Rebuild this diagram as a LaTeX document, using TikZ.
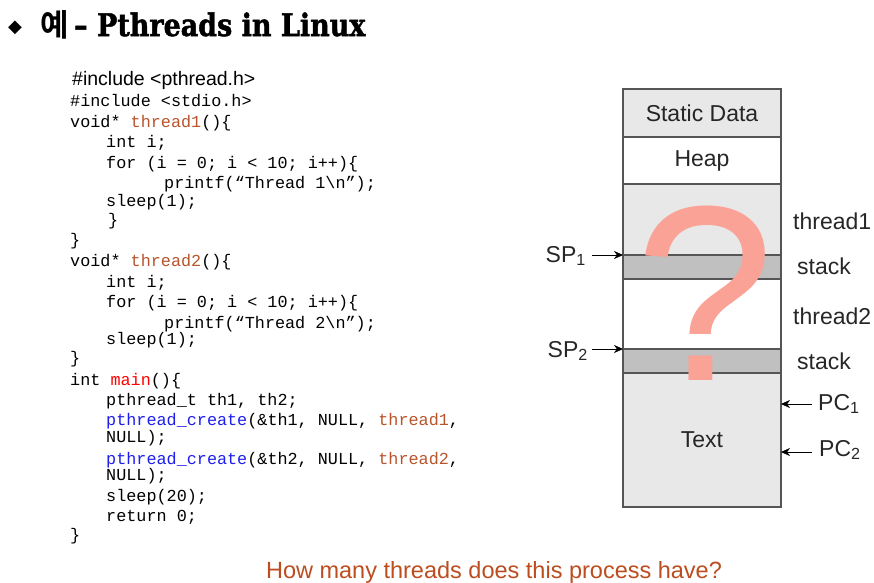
\documentclass[tikz,border=0pt]{standalone}
\usepackage{fontspec}
\setmainfont{Liberation Sans}
\setmonofont{Liberation Mono}
\newfontfamily\titlefont{DejaVu Serif}[BoldFeatures={FakeBold=1.6}]
\newfontfamily\krfont{Noto Sans CJK KR}[BoldFont={Noto Sans CJK KR Bold}]
\newfontfamily\symfont{DejaVu Sans}
\usetikzlibrary{arrows.meta,positioning}
\definecolor{segfill}{RGB}{232,232,232}
\definecolor{stackfill}{RGB}{192,192,192}
\definecolor{segline}{RGB}{85,85,85}
\definecolor{fnbrown}{RGB}{184,84,44}
\definecolor{callblue}{RGB}{30,30,235}
\definecolor{questpink}{RGB}{250,162,150}
\definecolor{askbrown}{RGB}{187,77,30}

\begin{document}
\begin{tikzpicture}[x=1pt,y=-1pt,>={Stealth[length=9pt,width=8pt]},
  seg/.style={draw=segline,line width=1.3pt,minimum width=158pt,inner sep=0pt,
    outer sep=0pt,font=\fontsize{23}{27}\selectfont,text=black!85},
  lbl/.style={inner sep=0pt,font=\fontsize{23}{27}\selectfont,text=black!85},
  code/.style={anchor=base west,inner sep=0pt,font=\ttfamily\fontsize{16.8}{20}\selectfont}]
  \useasboundingbox (0,0) rectangle (874,582);
  % title
  \node[inner sep=0pt,font=\symfont\fontsize{18}{18}\selectfont] (bullet) at (15,28) {◆};
  \node[anchor=base west,inner sep=0pt,font=\krfont\bfseries\fontsize{31}{31}\selectfont] (ye) at (40,36) {예};
  \node[anchor=base west,inner sep=0pt,font=\titlefont\bfseries\fontsize{31}{31}\selectfont] (title) at (74,36)
    {\scalebox{0.87}[1]{– Pthreads in Linux}};
  % source code
  \node[anchor=base west,inner sep=0pt,font=\fontsize{19.5}{20}\selectfont] (inc1) at (72,85) {\#include <pthread.h>};
  \node[code] (inc2) at (70,106) {\#include <stdio.h>};
  \node[code] (l3) at (70,127) {void* \textcolor{fnbrown}{thread1}()\{};
  \node[code] (l4) at (106,147) {int i;};
  \node[code] (l5) at (106,168) {for (i = 0; i < 10; i++)\{};
  \node[code] (l6) at (164,188) {printf(“Thread 1\textbackslash n”);};
  \node[code] (l7) at (106,206) {sleep(1);};
  \node[code] (l8) at (108,225) {\}};
  \node[code] (l9) at (70,245) {\}};
  \node[code] (l10) at (70,266) {void* \textcolor{fnbrown}{thread2}()\{};
  \node[code] (l11) at (106,287) {int i;};
  \node[code] (l12) at (106,307) {for (i = 0; i < 10; i++)\{};
  \node[code] (l13) at (164,328) {printf(“Thread 2\textbackslash n”);};
  \node[code] (l14) at (106,344) {sleep(1);};
  \node[code] (l15) at (70,363) {\}};
  \node[code] (l16) at (70,385) {int \textcolor{red}{main}()\{};
  \node[code] (l17) at (106,405) {pthread\_t th1, th2;};
  \node[code] (l18) at (106,425) {\textcolor{callblue}{pthread\_create}(\&th1, NULL, \textcolor{fnbrown}{thread1},};
  \node[code] (l19) at (106,442) {NULL);};
  \node[code] (l20) at (106,464) {\textcolor{callblue}{pthread\_create}(\&th2, NULL, \textcolor{fnbrown}{thread2},};
  \node[code] (l21) at (106,480) {NULL);};
  \node[code] (l22) at (106,501) {sleep(20);};
  \node[code] (l23) at (106,521) {return 0;};
  \node[code] (l24) at (70,540) {\}};
  % address space
  \node[seg,fill=segfill,minimum height=48pt] (static) at (702,113) {Static Data};
  \node[seg,minimum height=47pt,below=0pt of static] (heap) {Heap};
  \node[seg,fill=segfill,minimum height=71pt,below=0pt of heap] (thr1) {};
  \node[seg,fill=stackfill,minimum height=24pt,below=0pt of thr1] (stk1) {};
  \node[seg,minimum height=70pt,below=0pt of stk1] (thr2) {};
  \node[seg,fill=stackfill,minimum height=24pt,below=0pt of thr2] (stk2) {};
  \node[seg,fill=segfill,minimum height=134pt,below=0pt of stk2] (text) {Text};
  \node[lbl,anchor=west] (lthr1) at (793,221) {thread1};
  \node[lbl,anchor=west] (lstk1) at (797,266) {stack};
  \node[lbl,anchor=west] (lthr2) at (793,316) {thread2};
  \node[lbl,anchor=west] (lstk2) at (797,361) {stack};
  % stack and program counters
  \node[lbl,anchor=base east] (sp1) at (586,262) {SP\textsubscript{1}};
  \node[lbl,anchor=base east] (sp2) at (588,357) {SP\textsubscript{2}};
  \coordinate (sp1tail) at (592,255);
  \coordinate (sp2tail) at (592,349);
  \draw[->] (sp1tail) -- (stk1.north west);
  \draw[->] (sp2tail) -- (stk2.north west);
  \node[lbl,anchor=base west] (pc1) at (818,410) {PC\textsubscript{1}};
  \node[lbl,anchor=base west] (pc2) at (819,456) {PC\textsubscript{2}};
  \coordinate (pc1tail) at (812,404);
  \coordinate (pc2tail) at (812,452);
  \draw[->] (pc1tail) -- (text.east |- pc1tail);
  \draw[->] (pc2tail) -- (text.east |- pc2tail);
  % question
  \node[anchor=base,inner sep=0pt,text=questpink,font=\fontsize{250}{250}\selectfont] (quest) at (705,380) {?};
  \node[anchor=base,inner sep=0pt,text=askbrown,font=\fontsize{23.5}{26}\selectfont] (ask) at (494,578)
    {How many threads does this process have?};
\end{tikzpicture}
\end{document}
